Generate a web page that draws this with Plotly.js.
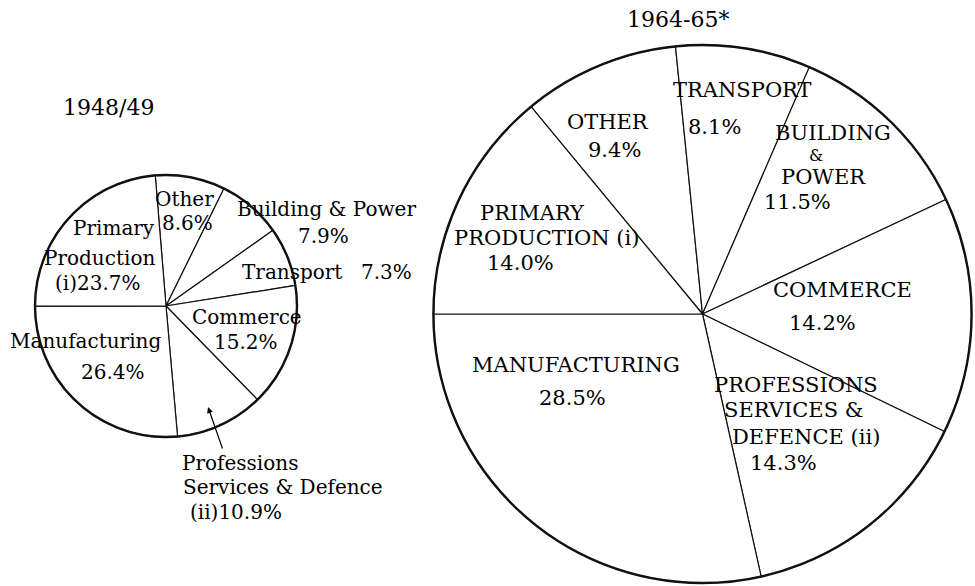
<!DOCTYPE html>
<html>
<head>
<meta charset="utf-8">
<script src="https://cdn.plot.ly/plotly-3.0.1.min.js"></script>
<style>html,body{margin:0;padding:0;background:#fff;}#chart{width:975px;height:586px;}</style>
</head>
<body>
<div id="chart"></div>
<script>
// ---- data ----
const leftTitle = "1948/49";
const rightTitle = "1964-65*";

const leftCategories = ["Other", "Building & Power", "Transport", "Commerce",
  "Professions Services & Defence (ii)", "Manufacturing", "Primary Production (i)"];
const leftValues = [8.6, 7.9, 7.3, 15.2, 10.9, 26.4, 23.7];

const rightCategories = ["OTHER", "TRANSPORT", "BUILDING & POWER", "COMMERCE",
  "PROFESSIONS SERVICES & DEFENCE (ii)", "MANUFACTURING", "PRIMARY PRODUCTION (i)"];
const rightValues = [9.4, 8.1, 11.5, 14.2, 14.3, 28.5, 14.0];

// label text lines ({v} = the slice's value)
const leftLabelLines = [
  ["Other", "{v}%"],
  ["Building &amp; Power", "{v}%"],
  ["Transport", "{v}%"],
  ["Commerce", "{v}%"],
  ["Professions", "Services &amp; Defence", "(ii){v}%"],
  ["Manufacturing", "{v}%"],
  ["Primary", "Production", "(i){v}%"]
];
const rightLabelLines = [
  ["OTHER", "{v}%"],
  ["TRANSPORT", "{v}%"],
  ["BUILDING", "&amp;", "POWER", "{v}%"],
  ["COMMERCE", "{v}%"],
  ["PROFESSIONS", "SERVICES &amp;", "DEFENCE (ii)", "{v}%"],
  ["MANUFACTURING", "{v}%"],
  ["PRIMARY", "PRODUCTION (i)", "{v}%"]
];

// ---- layout (pixel positions / sizes of label lines) ----
const W = 975, H = 586;
const leftLabelPos = [
  [[184, 199], [187, 223]],
  [[326, 209], [323, 236]],
  [[292, 272], [386, 272]],
  [[247, 317], [246, 342]],
  [[240, 463], [283, 487], [236, 512]],
  [[85, 341], [113, 372]],
  [[114, 228], [99, 258], [98, 283]]
];
const rightLabelPos = [
  [[608, 122], [614, 150]],
  [[742, 90], [714, 127]],
  [[833, 133], [816, 155], [823, 177], [797, 202]],
  [[842, 290], [822, 323]],
  [[796, 385], [793, 410], [806, 437], [783, 463]],
  [[576, 365], [572, 398]],
  [[532, 213], [546, 238], [520, 263]]
];
// smaller font for the lone "&" line of BUILDING & POWER
const rightLineSize = [[21, 21], [21, 21], [21, 16, 21, 21], [21, 21], [21, 21, 21, 21], [21, 21], [21, 21, 21]];

const FONT = "DejaVu Serif";
const INK = "#000";

function fx(x) { return x / W; }
function fy(y) { return 1 - y / H; }

function pieTrace(labels, values, dom, rotation) {
  return {
    type: "pie", labels: labels, values: values, sort: false,
    direction: "clockwise", rotation: rotation,
    textinfo: "none", hoverinfo: "none", showlegend: false,
    marker: { colors: labels.map(() => "#ffffff"), line: { color: "#111", width: 1.2 } },
    domain: dom
  };
}
function rimTrace(dom) {
  return {
    type: "pie", labels: ["rim"], values: [1], sort: false,
    textinfo: "none", hoverinfo: "none", showlegend: false,
    marker: { colors: ["rgba(0,0,0,0)"], line: { color: "#111", width: 2.4 } },
    domain: dom
  };
}

const leftDomain = { x: [fx(35), fx(297)], y: [fy(437), fy(175)] };
const rightDomain = { x: [fx(433), fx(972)], y: [fy(583), fy(45)] };

const data = [
  pieTrace(leftCategories, leftValues, leftDomain, -4.7),
  rimTrace(leftDomain),
  pieTrace(rightCategories, rightValues, rightDomain, -39.6),
  rimTrace(rightDomain)
];

const annotations = [];
function addLabels(lines, positions, values, sizeFn) {
  lines.forEach((ls, i) => {
    ls.forEach((t, j) => {
      const p = positions[i][j];
      annotations.push({
        xref: "paper", yref: "paper", x: fx(p[0]), y: fy(p[1]),
        xanchor: "center", yanchor: "middle", showarrow: false,
        text: t.replace("{v}", values[i].toFixed(1)),
        font: { family: FONT, size: sizeFn(i, j), color: INK }
      });
    });
  });
}
addLabels(leftLabelLines, leftLabelPos, leftValues, () => 20);
addLabels(rightLabelLines, rightLabelPos, rightValues, (i, j) => rightLineSize[i][j]);

annotations.push({ xref: "paper", yref: "paper", x: fx(108), y: fy(108), xanchor: "center", yanchor: "middle",
  showarrow: false, text: leftTitle, font: { family: FONT, size: 22, color: INK } });
annotations.push({ xref: "paper", yref: "paper", x: fx(678), y: fy(19), xanchor: "center", yanchor: "middle",
  showarrow: false, text: rightTitle, font: { family: FONT, size: 22, color: INK } });
// pointer arrow for the Professions slice
annotations.push({ xref: "paper", yref: "paper", x: fx(208), y: fy(407), text: "",
  showarrow: true, ax: 15, ay: 43, arrowhead: 2, arrowsize: 1, arrowwidth: 1.2, arrowcolor: INK, standoff: 0 });

const layout = {
  width: W, height: H, margin: { l: 0, r: 0, t: 0, b: 0 },
  paper_bgcolor: "#ffffff", plot_bgcolor: "#ffffff",
  showlegend: false, annotations: annotations
};

Plotly.newPlot("chart", data, layout, { staticPlot: true, displayModeBar: false });
</script>
</body>
</html>
